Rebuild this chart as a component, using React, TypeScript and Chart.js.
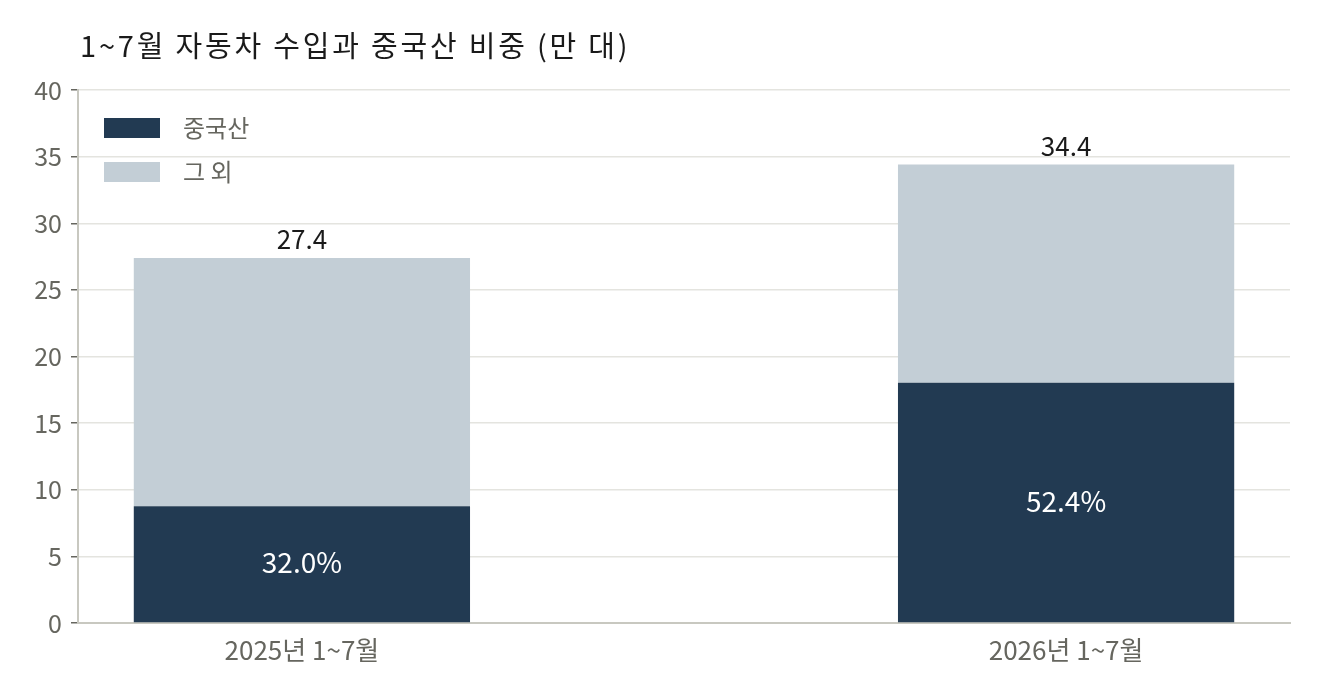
import React, { useEffect, useRef } from "react";
import { Chart, registerables } from "chart.js";

Chart.register(...registerables);

const title = "1~7월 자동차 수입과 중국산 비중 (만 대)";
const categories = ["2025년 1~7월", "2026년 1~7월"];
const seriesNames = ["중국산", "그 외"];
const totals = [27.4, 34.4];
const chinaShare = [32.0, 52.4];
const chinaValues = [8.77, 18.03];
const otherValues = [18.63, 16.37];
const yTicks = [0, 5, 10, 15, 20, 25, 30, 35, 40];

const FONT = "'Noto Sans CJK KR', 'Noto Sans', sans-serif";
const NAVY = "#223a52";
const LIGHT = "#c3ced6";
const GRAY = "#66665f";
const COLORS = [NAVY, LIGHT];

export default function App() {
  const ref = useRef<HTMLCanvasElement | null>(null);
  useEffect(() => {
    if (!ref.current) return;
    const labelPlugin = {
      id: "labels",
      afterDatasetsDraw(chart: any) {
        const ctx = chart.ctx;
        ctx.save();
        ctx.textAlign = "center";
        ctx.textBaseline = "alphabetic";
        const m0 = chart.getDatasetMeta(0);
        const m1 = chart.getDatasetMeta(1);
        ctx.font = `28px ${FONT}`;
        m0.data.forEach((bar: any, i: number) => {
          ctx.fillStyle = "#ffffff";
          ctx.fillText(`${chinaShare[i].toFixed(1)}%`, bar.x, (bar.y + bar.base) / 2 + 9);
        });
        ctx.font = `26px ${FONT}`;
        m1.data.forEach((bar: any, i: number) => {
          ctx.fillStyle = "#1a1a1a";
          ctx.fillText(totals[i].toFixed(1), bar.x, bar.y - 9);
        });
        ctx.restore();
      },
      afterDraw(chart: any) {
        const ctx = chart.ctx;
        const area = chart.chartArea;
        ctx.save();
        // title
        ctx.font = `29px ${FONT}`;
        (ctx as any).letterSpacing = "2.8px";
        ctx.fillStyle = "#1a1a1a";
        ctx.textAlign = "left";
        ctx.textBaseline = "alphabetic";
        ctx.fillText(title, area.left + 2, 57);
        (ctx as any).letterSpacing = "0px";
        // legend
        ctx.font = `24px ${FONT}`;
        ctx.textBaseline = "middle";
        seriesNames.forEach((name, i) => {
          const y = area.top + 38 + i * 44;
          ctx.fillStyle = COLORS[i];
          ctx.fillRect(area.left + 26, y - 10, 56, 20);
          ctx.fillStyle = GRAY;
          ctx.fillText(name, area.left + 105, y);
        });
        ctx.restore();
      },
    };
    const chart = new Chart(ref.current, {
      type: "bar",
      data: {
        datasets: [
          {
            label: seriesNames[0],
            data: chinaValues.map((v, i) => ({ x: i, y: v })),
            backgroundColor: NAVY,
            barPercentage: 0.44,
            categoryPercentage: 1,
          },
          {
            label: seriesNames[1],
            data: otherValues.map((v, i) => ({ x: i, y: v })),
            backgroundColor: LIGHT,
            barPercentage: 0.44,
            categoryPercentage: 1,
          },
        ],
      },
      options: {
        animation: false,
        responsive: true,
        maintainAspectRatio: false,
        layout: { padding: { top: 90, right: 30, left: 0, bottom: 0 } },
        plugins: {
          title: { display: false },
          tooltip: { enabled: false },
          legend: { display: false },
        },
        scales: {
          x: {
            type: "linear",
            stacked: true,
            offset: false,
            min: -0.293,
            max: 1.293,
            afterBuildTicks(axis: any) {
              axis.ticks = categories.map((_, i) => ({ value: i }));
            },
            afterFit(axis: any) {
              axis.height = 77;
            },
            ticks: {
              callback: (v: any) => categories[Math.round(Number(v))] ?? "",
              font: { family: FONT, size: 26 },
              color: GRAY,
              padding: 5,
              maxRotation: 0,
            },
            grid: { display: false, drawTicks: true, tickLength: 7, tickColor: GRAY },
            border: { display: true, color: "#c8c8c0", width: 2 },
          },
          y: {
            stacked: true,
            min: 0,
            max: 40,
            afterBuildTicks(axis: any) {
              axis.ticks = yTicks.map((v) => ({ value: v }));
            },
            afterFit(axis: any) {
              axis.width = 78;
            },
            ticks: {
              font: { family: FONT, size: 25 },
              color: GRAY,
              padding: 9,
            },
            grid: { color: "#e4e4df", lineWidth: 1.5, tickLength: 7, tickColor: GRAY },
            border: { display: true, color: "#c8c8c0", width: 2 },
          },
        },
      },
      plugins: [labelPlugin],
    });
    return () => chart.destroy();
  }, []);
  return (
    <div style={{ position: "fixed", left: 0, top: 0, width: 1320, height: 700 }}>
      <canvas ref={ref} />
    </div>
  );
}
